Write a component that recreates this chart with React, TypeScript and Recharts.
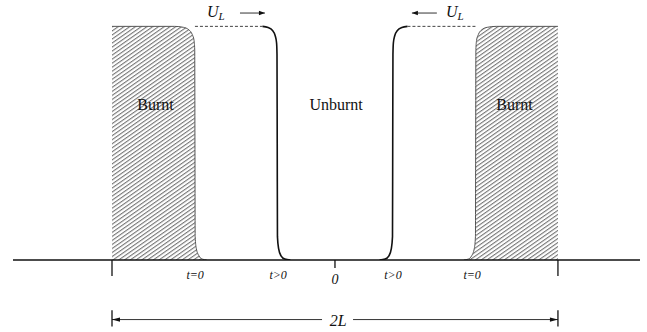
import { ComposedChart, Line, Area, XAxis, YAxis, ReferenceLine, ReferenceDot } from 'recharts'

type Pt = { x: number; y: number }

// x in units of L (walls at -1 and +1), y = 1 burnt / 0 unburnt
const BURNT_LEFT: Pt[] = [
  { x: -1, y: 1 }, { x: -0.72, y: 1 }, { x: -0.68, y: 0.996 }, { x: -0.655, y: 0.985 },
  { x: -0.64, y: 0.965 }, { x: -0.632, y: 0.94 }, { x: -0.629, y: 0.9 }, { x: -0.628, y: 0.5 },
  { x: -0.627, y: 0.1 }, { x: -0.622, y: 0.05 }, { x: -0.61, y: 0.018 }, { x: -0.595, y: 0.004 },
  { x: -0.575, y: 0 },
]
const BURNT_RIGHT: Pt[] = [
  { x: 0.578, y: 0 }, { x: 0.598, y: 0.004 }, { x: 0.613, y: 0.018 }, { x: 0.625, y: 0.05 },
  { x: 0.63, y: 0.1 }, { x: 0.631, y: 0.5 }, { x: 0.632, y: 0.9 }, { x: 0.635, y: 0.94 },
  { x: 0.643, y: 0.965 }, { x: 0.658, y: 0.985 }, { x: 0.683, y: 0.996 }, { x: 0.723, y: 1 },
  { x: 1, y: 1 },
]
const FLAME_LEFT: Pt[] = [
  { x: -0.325, y: 1 }, { x: -0.3, y: 0.995 }, { x: -0.28, y: 0.982 }, { x: -0.268, y: 0.96 },
  { x: -0.262, y: 0.93 }, { x: -0.26, y: 0.88 }, { x: -0.259, y: 0.5 }, { x: -0.258, y: 0.1 },
  { x: -0.253, y: 0.05 }, { x: -0.242, y: 0.018 }, { x: -0.225, y: 0.004 }, { x: -0.2, y: 0 },
]
const FLAME_RIGHT: Pt[] = [
  { x: 0.2, y: 0 }, { x: 0.225, y: 0.004 }, { x: 0.242, y: 0.018 }, { x: 0.253, y: 0.05 },
  { x: 0.258, y: 0.1 }, { x: 0.259, y: 0.5 }, { x: 0.26, y: 0.88 }, { x: 0.262, y: 0.93 },
  { x: 0.268, y: 0.96 }, { x: 0.28, y: 0.982 }, { x: 0.3, y: 0.995 }, { x: 0.325, y: 1 },
]
const TRAVEL_LEFT: Pt[] = [{ x: -0.628, y: 1 }, { x: -0.325, y: 1 }]
const TRAVEL_RIGHT: Pt[] = [{ x: 0.325, y: 1 }, { x: 0.632, y: 1 }]

const TICKS = [-1, -0.627, -0.255, 0, 0.26, 0.615, 1]
const TICK_LABELS = ['', 't=0', 't>0', '0', 't>0', 't=0', '']

const REGION_NAMES = ['Burnt', 'Unburnt', 'Burnt']
const REGION_X = [-0.805, 0.005, 0.805]
const REGION_Y = 0.64

// U_L labels and their direction arrows
const SPEED_X = [-0.574, 0.498]
const SPEED_Y = 1.04
const SPEED_ARROW_LEFT = [-0.426, -0.314]
const SPEED_ARROW_RIGHT = [0.457, 0.345]
const SPEED_ARROW_Y = 1.057

const SPAN_Y = -0.255
const SPAN_GAP = [-0.058, 0.081]

const FONT = '"Liberation Serif", "DejaVu Serif", serif'
const INK = '#111'

const AxisTick = (props: any) => {
  const { x, y, payload } = props
  const v = payload.value
  const label = TICK_LABELS[TICKS.indexOf(v)]
  if (Math.abs(v) === 1) return <line x1={x} x2={x} y1={y} y2={y + 16} stroke={INK} strokeWidth={1.3} />
  if (v === 0)
    return (
      <g>
        <line x1={x} x2={x} y1={y} y2={y + 8} stroke={INK} strokeWidth={1.3} />
        <text x={x} y={y + 24} textAnchor="middle" fontSize={14} fontStyle="italic" fontFamily={FONT} fill={INK}>0</text>
      </g>
    )
  return (
    <text x={x} y={y + 19} textAnchor="middle" fontSize={12} fontStyle="italic" fontFamily={FONT} fill={INK}>{label}</text>
  )
}

const Arrow = (props: any) => {
  const { x1, y1, x2, y2, head = 8 } = props
  const dir = x2 > x1 ? 1 : -1
  return (
    <g>
      <line x1={x1} y1={y1} x2={x2} y2={y2} stroke="#333" strokeWidth={1} />
      <polygon points={`${x2},${y2} ${x2 - dir * head},${y2 - 2.2} ${x2 - dir * head},${y2 + 2.2}`} fill={INK} />
    </g>
  )
}

const Bar = (props: any) => <line x1={props.x1} y1={props.y1} x2={props.x2} y2={props.y2} stroke={INK} strokeWidth={1.3} />

const SpeedLabel = (p: any) => (
  <text x={p.cx} y={p.cy} fontSize={16} fontFamily={FONT} fill={INK}>
    <tspan fontStyle="italic">U</tspan>
    <tspan fontStyle="italic" fontSize={11} dy={3}>L</tspan>
  </text>
)

export default function App() {
  return (
    <div style={{ position: 'absolute', left: 0, top: 0, background: '#fff' }}>
      <ComposedChart width={647} height={332} margin={{ top: 3, right: 7, bottom: 32, left: 13 }}>
        <defs>
          <pattern id="hatch" patternUnits="userSpaceOnUse" width="4" height="3.3" patternTransform="rotate(-35)">
            <line x1="0" y1="0.6" x2="4" y2="0.6" stroke="#555" strokeWidth="0.9" />
          </pattern>
        </defs>
        <XAxis
          type="number"
          dataKey="x"
          domain={[-1.444, 1.368]}
          allowDataOverflow
          ticks={TICKS}
          interval={0}
          height={40}
          tickSize={0}
          tickMargin={0}
          tickLine={false}
          axisLine={{ stroke: INK, strokeWidth: 1.3 }}
          tick={<AxisTick />}
        />
        <YAxis type="number" dataKey="y" domain={[0, 1.1]} allowDataOverflow hide />
        <Area data={BURNT_LEFT} dataKey="y" type="monotone" fill="url(#hatch)" fillOpacity={1} stroke="#555" strokeWidth={1} dot={false} activeDot={false} isAnimationActive={false} />
        <Area data={BURNT_RIGHT} dataKey="y" type="monotone" fill="url(#hatch)" fillOpacity={1} stroke="#555" strokeWidth={1} dot={false} activeDot={false} isAnimationActive={false} />
        <Line data={TRAVEL_LEFT} dataKey="y" type="linear" stroke="#444" strokeWidth={1} strokeDasharray="3 2" dot={false} activeDot={false} isAnimationActive={false} />
        <Line data={TRAVEL_RIGHT} dataKey="y" type="linear" stroke="#444" strokeWidth={1} strokeDasharray="3 2" dot={false} activeDot={false} isAnimationActive={false} />
        <Line data={FLAME_LEFT} dataKey="y" type="monotone" stroke={INK} strokeWidth={1.6} dot={false} activeDot={false} isAnimationActive={false} />
        <Line data={FLAME_RIGHT} dataKey="y" type="monotone" stroke={INK} strokeWidth={1.6} dot={false} activeDot={false} isAnimationActive={false} />

        {REGION_NAMES.map((name, i) => (
          <ReferenceDot
            key={`r${i}`}
            x={REGION_X[i]}
            y={REGION_Y}
            r={0}
            ifOverflow="visible"
            shape={(p: any) => (
              <text x={p.cx} y={p.cy} textAnchor="middle" fontSize={16} fontFamily={FONT} fill={INK}>{name}</text>
            )}
          />
        ))}

        <ReferenceDot x={SPEED_X[0]} y={SPEED_Y} r={0} ifOverflow="visible" shape={<SpeedLabel />} />
        <ReferenceDot x={SPEED_X[1]} y={SPEED_Y} r={0} ifOverflow="visible" shape={<SpeedLabel />} />
        <ReferenceLine
          segment={[{ x: SPEED_ARROW_LEFT[0], y: SPEED_ARROW_Y }, { x: SPEED_ARROW_LEFT[1], y: SPEED_ARROW_Y }]}
          ifOverflow="visible"
          shape={<Arrow head={6} />}
        />
        <ReferenceLine
          segment={[{ x: SPEED_ARROW_RIGHT[0], y: SPEED_ARROW_Y }, { x: SPEED_ARROW_RIGHT[1], y: SPEED_ARROW_Y }]}
          ifOverflow="visible"
          shape={<Arrow head={6} />}
        />

        <ReferenceLine segment={[{ x: SPAN_GAP[0], y: SPAN_Y }, { x: -1, y: SPAN_Y }]} ifOverflow="visible" shape={<Arrow />} />
        <ReferenceLine segment={[{ x: SPAN_GAP[1], y: SPAN_Y }, { x: 1, y: SPAN_Y }]} ifOverflow="visible" shape={<Arrow />} />
        <ReferenceLine segment={[{ x: -1, y: SPAN_Y + 0.04 }, { x: -1, y: SPAN_Y - 0.03 }]} ifOverflow="visible" shape={<Bar />} />
        <ReferenceLine segment={[{ x: 1, y: SPAN_Y + 0.04 }, { x: 1, y: SPAN_Y - 0.03 }]} ifOverflow="visible" shape={<Bar />} />
        <ReferenceDot
          x={0.015}
          y={SPAN_Y}
          r={0}
          ifOverflow="visible"
          shape={(p: any) => (
            <text x={p.cx} y={p.cy + 6} textAnchor="middle" fontSize={16} fontStyle="italic" fontFamily={FONT} fill={INK}>2L</text>
          )}
        />
      </ComposedChart>
    </div>
  )
}
